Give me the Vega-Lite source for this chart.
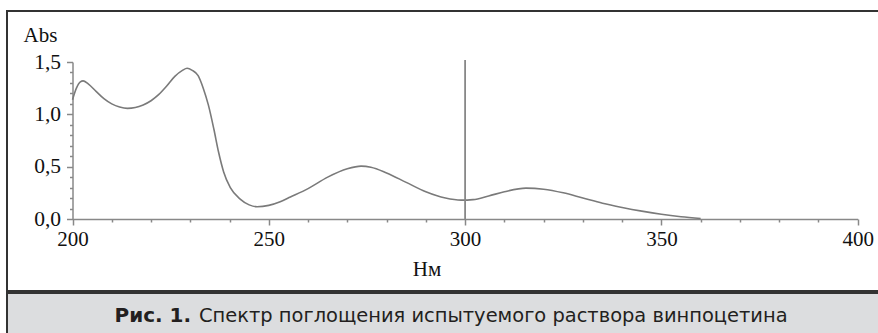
{
  "$schema": "https://vega.github.io/schema/vega-lite/v6.json",
  "padding": {"left": 6, "top": 10, "right": 0, "bottom": 0},
  "autosize": {"type": "pad"},
  "background": "white",
  "spacing": 0,
  "vconcat": [
    {
      "width": 873,
      "height": 280,
      "view": {"stroke": "#333333", "strokeWidth": 2},
      "resolve": {"axis": {"x": "independent", "y": "independent"}},
      "layer": [
        {
          "data": {"values": [
            {"nm": 200, "abs": 1.14}, {"nm": 201, "abs": 1.25}, {"nm": 202, "abs": 1.31}, {"nm": 202.7, "abs": 1.32},
            {"nm": 204, "abs": 1.29}, {"nm": 206, "abs": 1.22}, {"nm": 208, "abs": 1.15}, {"nm": 210, "abs": 1.1},
            {"nm": 212, "abs": 1.07}, {"nm": 214, "abs": 1.057}, {"nm": 216, "abs": 1.065}, {"nm": 218, "abs": 1.09},
            {"nm": 220, "abs": 1.13}, {"nm": 222, "abs": 1.19}, {"nm": 224, "abs": 1.27}, {"nm": 226, "abs": 1.36},
            {"nm": 228, "abs": 1.42}, {"nm": 229.2, "abs": 1.44}, {"nm": 230.5, "abs": 1.42}, {"nm": 232, "abs": 1.37},
            {"nm": 233.3, "abs": 1.25}, {"nm": 234.6, "abs": 1.09}, {"nm": 236, "abs": 0.86}, {"nm": 237.2, "abs": 0.64},
            {"nm": 238.5, "abs": 0.45}, {"nm": 240.2, "abs": 0.3}, {"nm": 242.7, "abs": 0.19}, {"nm": 245, "abs": 0.135},
            {"nm": 247, "abs": 0.117}, {"nm": 250, "abs": 0.13}, {"nm": 252.9, "abs": 0.165}, {"nm": 255.5, "abs": 0.21},
            {"nm": 260, "abs": 0.29}, {"nm": 265, "abs": 0.4}, {"nm": 270, "abs": 0.48}, {"nm": 273.5, "abs": 0.505},
            {"nm": 276, "abs": 0.495}, {"nm": 280, "abs": 0.44}, {"nm": 285, "abs": 0.35}, {"nm": 290, "abs": 0.26},
            {"nm": 295, "abs": 0.2}, {"nm": 299, "abs": 0.18}, {"nm": 302, "abs": 0.185}, {"nm": 306, "abs": 0.22},
            {"nm": 310, "abs": 0.26}, {"nm": 315.5, "abs": 0.295}, {"nm": 320, "abs": 0.285}, {"nm": 325, "abs": 0.25},
            {"nm": 330, "abs": 0.2}, {"nm": 335, "abs": 0.15}, {"nm": 340, "abs": 0.11}, {"nm": 345, "abs": 0.075},
            {"nm": 350, "abs": 0.045}, {"nm": 355, "abs": 0.022}, {"nm": 360, "abs": 0.005}
          ]},
          "mark": {"type": "line", "color": "#7a7a7a", "strokeWidth": 1.6, "interpolate": "monotone"},
          "encoding": {
            "x": {
              "field": "nm", "type": "quantitative",
              "scale": {"domain": [200, 400], "range": [65.5, 850.7], "nice": false, "zero": false},
              "axis": {
                "orient": "bottom",
                "values": [200, 250, 300, 350, 400],
                "grid": false,
                "offset": -72,
                "domainColor": "#888888", "domainWidth": 1.5,
                "tickColor": "#888888", "tickWidth": 1.5, "tickSize": 6,
                "labelFont": "Liberation Serif", "labelFontSize": 21, "labelColor": "#111111",
                "labelPadding": 3, "labelOverlap": false, "labelFlush": false,
                "title": "Нм", "titleFont": "Liberation Serif", "titleFontSize": 21, "titleFontWeight": "normal",
                "titleColor": "#111111", "titleX": 419.5, "titleY": 56, "titleBaseline": "alphabetic", "titleAlign": "center"
              }
            },
            "y": {
              "field": "abs", "type": "quantitative",
              "scale": {"domain": [0, 1.5], "range": [208, 51], "nice": false, "zero": false},
              "axis": {
                "orient": "left",
                "values": [0, 0.5, 1, 1.5],
                "labelExpr": "replace(format(datum.value, '.1f'), '.', ',')",
                "grid": false,
                "offset": -65.5,
                "domainColor": "#888888", "domainWidth": 1.5,
                "tickColor": "#888888", "tickWidth": 1.5, "tickSize": 6,
                "labelFont": "Liberation Serif", "labelFontSize": 21.5, "labelColor": "#111111",
                "labelPadding": 6, "labelOverlap": false, "labelFlush": false,
                "title": "Abs", "titleFont": "Liberation Serif", "titleFontSize": 21, "titleFontWeight": "normal",
                "titleColor": "#111111", "titleAngle": 0, "titleX": -49.5, "titleY": 30,
                "titleBaseline": "alphabetic", "titleAlign": "left"
              }
            }
          }
        },
        {
          "data": {"values": [{"nm": 300, "abs": 0}, {"nm": 300, "abs": 1.52}]},
          "mark": {"type": "line", "color": "#888888", "strokeWidth": 1.8},
          "encoding": {
            "x": {
              "field": "nm", "type": "quantitative",
              "axis": {
                "orient": "bottom",
                "values": [210,220,230,240,260,270,280,290,310,320,330,340,360,370,380,390],
                "grid": false, "domain": false, "labels": false, "title": null,
                "offset": -72,
                "tickColor": "#888888", "tickWidth": 1.5, "tickSize": 3
              }
            },
            "y": {
              "field": "abs", "type": "quantitative",
              "axis": {
                "orient": "left",
                "values": [0.1,0.2,0.3,0.4,0.6,0.7,0.8,0.9,1.1,1.2,1.3,1.4],
                "grid": false, "domain": false, "labels": false, "title": null,
                "offset": -65.5,
                "tickColor": "#888888", "tickWidth": 1.5, "tickSize": 3
              }
            }
          }
        }
      ]
    },
    {
      "width": 873,
      "height": 52,
      "view": {"fill": "#dcdddf", "stroke": "#333333", "strokeWidth": 2},
      "data": {"values": [
        {"part": "bold", "text": "Рис. 1."},
        {"part": "regular", "text": "Спектр поглощения испытуемого раствора винпоцетина"}
      ]},
      "layer": [
        {
          "transform": [{"filter": "datum.part === 'bold'"}],
          "mark": {"type": "text", "font": "DejaVu Sans", "fontSize": 20, "fontWeight": "bold", "color": "#231f20", "align": "left", "baseline": "alphabetic", "dx": -329, "dy": 3},
          "encoding": {"text": {"field": "text"}}
        },
        {
          "transform": [{"filter": "datum.part === 'regular'"}],
          "mark": {"type": "text", "font": "DejaVu Sans", "fontSize": 19.45, "color": "#231f20", "align": "left", "baseline": "alphabetic", "dx": -244.5, "dy": 3},
          "encoding": {"text": {"field": "text"}}
        }
      ]
    }
  ]
}
